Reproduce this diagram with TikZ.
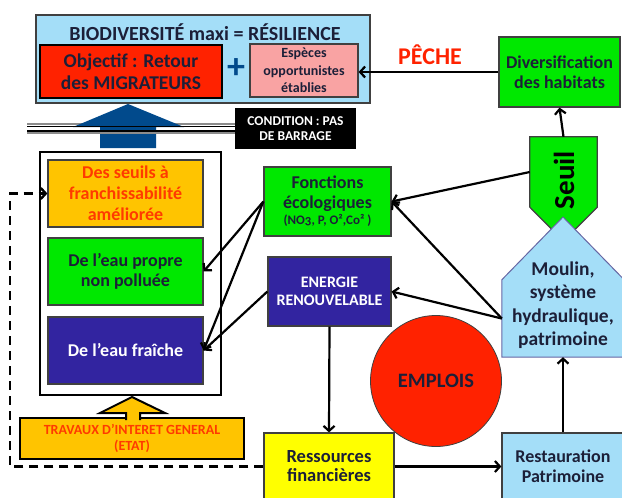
\documentclass[tikz,border=0pt]{standalone}
\usepackage{fontspec}
\setmainfont{Carlito}
\usetikzlibrary{arrows.meta}
\definecolor{ciel}{HTML}{A4DEF8}
\definecolor{vert}{HTML}{00E800}
\definecolor{rouge}{HTML}{FF2200}
\definecolor{rose}{HTML}{F9A3A3}
\definecolor{ambre}{HTML}{FFC400}
\definecolor{indigo}{HTML}{3224A0}
\definecolor{bleufleche}{HTML}{014A8C}
\definecolor{encre}{HTML}{1C1F38}
\definecolor{jaune}{HTML}{FFFF00}
\definecolor{texterouge}{HTML}{FF3A00}
\newcommand{\taille}[1]{\bfseries\fontsize{#1}{#1}\selectfont}

\begin{document}
\begin{tikzpicture}[x=1pt, y=-1pt,
    boite/.style={draw=black!75, line width=1.2pt, align=center, inner sep=0pt},
    epaisse/.style={draw=black, line width=2.5pt},
    fleche/.style={-{Straight Barb[length=5pt,width=11pt]}, line width=2.2pt}]
    \useasboundingbox (0,0) rectangle (622,498);

    % bloc du haut
    \node[boite, fill=ciel, minimum width=334, minimum height=88] (biodiv) at (203,59) {};
    \node[font=\taille{20}, text=encre] (titre) at (205,32) {BIODIVERSITÉ maxi = RÉSILIENCE};
    \node[boite, epaisse, fill=rouge, minimum width=182, minimum height=53, font=\taille{19.5}, text=encre] (objectif) at (131,71.5) {Objectif : Retour\\[3pt]des MIGRATEURS};
    \node[font=\taille{36}, text=bleufleche] (plus) at (236,69) {+};
    \node[boite, fill=rose, minimum width=108, minimum height=53, font=\taille{14}, text=encre] (especes) at (304,70.5) {Espèces\\[3.5pt]opportunistes\\[3.5pt]établies};

    \node[boite, fill=vert, minimum width=121, minimum height=70, font=\taille{18}, text=encre] (divers) at (559.5,72) {Diversification\\[2pt]des habitats};
    \node[font=\taille{24}, text=rouge] (peche) at (430,55) {PÊCHE};

    % condition et barrage
    \draw[black!45, line width=1.5pt] (27,124) -- (236,124);
    \node[fill=black, minimum width=121, minimum height=41, align=center, font=\taille{13.5}, text=white, inner sep=0pt] (condition) at (295.5,128.5) {CONDITION : PAS\\[1.5pt]DE BARRAGE};
    \fill[bleufleche] (100,148) -- (100,127) -- (73,127) -- (128,104) -- (184,127) -- (156,127) -- (156,148) -- cycle;
    \draw[line width=1.2pt] (27,126.5) -- (condition.west |- 0,126.5);
    \draw[line width=1.2pt] (27,131) -- (condition.west |- 0,131);
    \draw[black!45, line width=1.2pt] (27,133) -- (condition.west |- 0,133);

    % colonne de gauche
    \node[boite, epaisse, fill=white, minimum width=181, minimum height=243] (cadre) at (130.5,273.5) {};
    \node[boite, fill=ambre, minimum width=155, minimum height=67, font=\taille{18}, text=texterouge] (seuils) at (125.5,193.5) {Des seuils à\\[3pt]franchissabilité\\[3pt]améliorée};
    \node[boite, fill=vert, minimum width=155, minimum height=67, font=\taille{18}, text=encre] (propre) at (125.5,271.5) {De l’eau propre\\[2pt]non polluée};
    \node[boite, fill=indigo, minimum width=155, minimum height=67, font=\taille{18}, text=white] (fraiche) at (125.5,350.5) {De l’eau fraîche};

    \node[boite, epaisse, fill=ambre, minimum width=224, minimum height=41, font=\taille{14}, text=texterouge] (travaux) at (132,438.5) {TRAVAUX D’INTERET GENERAL\\[2pt](ETAT)};
    \filldraw[fill=ambre, line width=2pt] (126,420) -- (126,413) -- (100,413) -- (132,397) -- (165,413) -- (140,413) -- (140,420);

    % centre
    \node[boite, fill=vert, minimum width=127, minimum height=69, font=\taille{18}, text=encre] (fonctions) at (327.5,201.5) {Fonctions\\[2pt]écologiques\\[-2pt]{\taille{13}\addfontfeature{Numbers=OldStyle}(NO3, P, O²,Co² )}};
    \node[boite, fill=indigo, minimum width=123, minimum height=69, font=\taille{16}, text=white] (energie) at (329.5,291.5) {ENERGIE\\[2pt]RENOUVELABLE};
    \node[circle, draw=black!75, line width=0.8pt, fill=rouge, minimum size=131, font=\taille{20.5}, text=encre] (emplois) at (436,381) {EMPLOIS};

    % seuil et moulin
    \node[minimum width=67, minimum height=70, inner sep=0pt] (seuil) at (563.5,172) {};
    \filldraw[fill=vert, draw=black!75, line width=1.2pt] (seuil.north west) -- (seuil.north east) -- (seuil.south east) -- (563.5,241) -- (seuil.south west) -- cycle;
    \node[rotate=90, font=\taille{29}, text=black] (seuiltxt) at (564,180) {Seuil};
    \node[minimum width=122, minimum height=77, inner sep=0pt] (moulin) at (563,318.5) {};
    \filldraw[fill=ciel, draw=black!60!blue!60, line width=1pt] (moulin.south west) -- (moulin.north west) -- (563,217) -- (moulin.north east) -- (moulin.south east) -- cycle;
    \node[align=center, font=\taille{19.5}, text=encre] (moulintxt) at (563,305) {Moulin,\\[4pt]système\\[4pt]hydraulique,\\[4pt]patrimoine};

    % bas
    \node[boite, fill=jaune, minimum width=130, minimum height=67, font=\taille{18.5}, text=encre] (ressources) at (329,466.5) {Ressources\\[0.5pt]financières};
    \node[boite, fill=ciel, minimum width=122, minimum height=67, font=\taille{18}, text=encre] (restauration) at (563,466.5) {Restauration\\[2pt]Patrimoine};

    % fleches
    \draw[fleche] (divers.west) -- (divers.west -| especes.east);
    \draw[fleche] (seuil.north) -- (divers.south);
    \draw[fleche] (seuil.west) -- (fonctions.east);
    \draw[fleche] (moulin.west) -- (fonctions.east);
    \draw[fleche] (moulin.west) -- (energie.east);
    \draw[fleche] (fonctions.west) -- (propre.east);
    \draw[fleche] (fonctions.west) -- (fraiche.east);
    \draw[fleche] (energie.west) -- (fraiche.east);
    \draw[fleche] (energie.south) -- (ressources.north);
    \draw[fleche] (ressources.east) -- (restauration.west);
    \draw[fleche] (restauration.north) -- (moulin.south);
    \coordinate (coinbas) at (10,466.5);
    \coordinate (coinhaut) at (10,193.5);
    \draw[fleche, line width=2.4pt, dash pattern=on 9pt off 6pt] (ressources.west) -- (coinbas) -- (coinhaut) -- (seuils.west);
\end{tikzpicture}
\end{document}
